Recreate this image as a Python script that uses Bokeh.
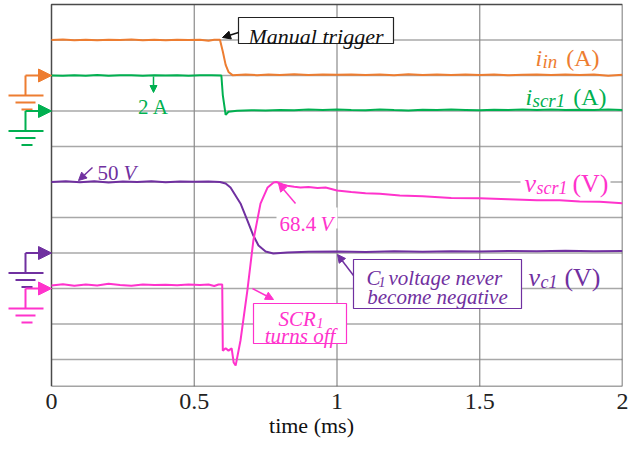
from bokeh.plotting import figure
from bokeh.models import Range1d, FixedTicker, Arrow, NormalHead, Label
from bokeh.embed import file_html
from bokeh.resources import INLINE

# ---------------- data ----------------
tick_values = [0, 0.5, 1, 1.5, 2]
tick_labels = ["0", "0.5", "1", "1.5", "2"]

# time in ms
t_iin = [0, 0.04, 0.08, 0.12, 0.16, 0.2, 0.24, 0.28, 0.32, 0.36, 0.4, 0.44, 0.48, 0.52,
         0.55, 0.57, 0.59, 0.6, 0.61, 0.62, 0.634, 0.68, 0.72, 0.76, 0.8, 0.85, 0.9, 0.95,
         1.0, 1.05, 1.1, 1.15, 1.2, 1.25, 1.3, 1.35, 1.4, 1.45, 1.5, 1.55, 1.6, 1.65, 1.7,
         1.75, 1.8, 1.85, 1.9, 1.95, 2.0]
i_in = [2.00, 2.03, 1.99, 2.02, 1.98, 2.02, 2.00, 2.03, 1.98, 2.01, 1.99, 2.02, 2.00, 2.01,
        1.96, 2.02, 2.01, 1.35, 0.60, 0.20, 0.02, 0.05, 0.02, 0.06, 0.03, 0.07, 0.03, 0.05,
        0.04, 0.06, 0.03, 0.05, 0.02, 0.07, 0.03, 0.05, 0.03, 0.06, 0.03, 0.05, 0.02, 0.04,
        0.06, 0.03, 0.05, 0.03, 0.06, -0.02, 0.04]

t_iscr = [0, 0.04, 0.08, 0.12, 0.16, 0.2, 0.24, 0.28, 0.32, 0.36, 0.4, 0.44, 0.48, 0.52,
          0.56, 0.595, 0.6, 0.61, 0.62, 0.65, 0.7, 0.75, 0.8, 0.85, 0.9, 0.95, 1.0, 1.05,
          1.1, 1.15, 1.2, 1.25, 1.3, 1.35, 1.4, 1.45, 1.5, 1.55, 1.6, 1.65, 1.7, 1.75, 1.8,
          1.85, 1.9, 1.95, 2.0]
i_scr1 = [2.00, 1.98, 2.02, 1.99, 2.03, 1.98, 2.01, 2.02, 1.99, 2.01, 2.00, 2.02, 1.99, 2.01,
          2.02, 2.00, 0.90, -0.22, -0.04, 0.02, 0.04, 0.03, 0.06, 0.04, 0.08, 0.05, 0.09, 0.06,
          0.04, 0.08, 0.05, 0.03, 0.07, 0.05, 0.08, 0.06, 0.04, 0.07, 0.05, 0.08, 0.06, 0.09,
          0.05, 0.07, 0.06, 0.08, 0.06]

t_vc1 = [0, 0.05, 0.1, 0.15, 0.2, 0.25, 0.3, 0.35, 0.4, 0.45, 0.5, 0.55, 0.59, 0.61, 0.627,
         0.662, 0.686, 0.707, 0.725, 0.75, 0.777, 0.826, 0.9, 1.0, 1.1, 1.2, 1.3, 1.4, 1.5,
         1.6, 1.7, 1.8, 1.9, 2.0]
v_c1 = [50.0, 50.6, 49.8, 50.5, 49.7, 50.4, 50.0, 50.6, 49.8, 50.3, 50.1, 50.3, 50.0, 48.9,
        46.1, 34.9, 22.9, 12.3, 5.3, 1.1, -0.35, 0.4, 0.9, 1.0, 0.7, 1.2, 0.9, 1.3, 1.0, 1.4,
        1.2, 1.5, 1.3, 1.4]

t_vscr = [0, 0.04, 0.08, 0.12, 0.16, 0.2, 0.24, 0.28, 0.32, 0.36, 0.4, 0.44, 0.48, 0.52,
          0.55, 0.57, 0.585, 0.598, 0.600, 0.610, 0.620, 0.631, 0.638, 0.645, 0.662, 0.686,
          0.707, 0.732, 0.757, 0.778, 0.788, 0.81, 0.826, 0.85, 0.872, 0.9, 0.932, 0.96,
          1.0, 1.05, 1.1, 1.15, 1.22, 1.3, 1.4, 1.5, 1.6, 1.7, 1.78, 1.85, 1.92, 2.0]
v_scr1 = [2.0, 2.8, 1.8, 2.6, 1.9, 3.0, 2.2, 1.7, 2.5, 2.2, 2.4, 2.1, 2.5, 2.3,
          2.6, 1.6, 2.6, 2.5, -39.9, -38.3, -39.9, -38.5, -47.5, -49.5, -33.4, -1.3,
          30.8, 54.5, 64.9, 68.1, 68.4, 66.8, 66.0, 65.3, 64.9, 65.2, 64.6, 64.9,
          62.9, 62.0, 61.2, 60.9, 59.8, 59.3, 58.2, 57.9, 57.3, 56.6, 56.6, 55.8, 55.7, 54.7]

# channel settings (scope screen): ground level in divisions, units per division
ground_div = [9, 8, 4, 3]
units_per_div = [2.0, 2.0, 25.0, 22.8]
colors = ["#ED7D31", "#00B050", "#7030A0", "#FF33CC"]
series = [(t_iin, i_in), (t_iscr, i_scr1), (t_vc1, v_c1), (t_vscr, v_scr1)]

# ---------------- layout helpers (pixel -> data) ----------------
def X(px):
    return (px - 51) / 285.5

def Y(py):
    return 10 - (py - 39.5) / 35.5

PYD = 1 / 35.5    # data per px, y

p = figure(width=639, height=449, output_backend="svg", toolbar_location=None,
           x_range=Range1d(X(0), 2.0), y_range=Range1d(Y(386), Y(0)),
           y_axis_location=None,
           min_border_left=0, min_border_right=17, min_border_top=0, min_border_bottom=63)
p.outline_line_color = None
p.grid.visible = False
p.background_fill_color = "white"
p.border_fill_color = "white"

ax = p.xaxis[0]
ax.ticker = FixedTicker(ticks=tick_values)
ax.major_label_overrides = {v: s for v, s in zip(tick_values, tick_labels)}
ax.axis_line_color = None
ax.major_tick_line_color = None
ax.minor_tick_line_color = None
ax.major_tick_out = 0
ax.major_tick_in = 0
ax.major_label_text_font = "Liberation Serif"
ax.major_label_text_font_size = "24px"
ax.major_label_text_color = "#222222"
ax.major_label_standoff = 7
ax.axis_label = "time (ms)"
ax.axis_label_text_font = "Liberation Serif"
ax.axis_label_text_font_size = "22px"
ax.axis_label_text_font_style = "normal"
ax.axis_label_text_color = "#111111"
ax.axis_label_standoff = 1

y_bot = Y(386)
y_top = Y(4)
grid_levels = list(range(1, 11))
vgrid = [0.5, 1.0, 1.5]

# grid
p.segment(x0=[0] * len(grid_levels), x1=[2] * len(grid_levels), y0=grid_levels, y1=grid_levels,
          line_color="#A8A8A8", line_width=1.6)
p.segment(x0=vgrid, x1=vgrid, y0=[y_bot] * 3, y1=[y_top] * 3, line_color="#8A8A8A", line_width=1.2)
# frame
p.line(x=[0, 0, 2, 2, 0], y=[y_bot, y_top, y_top, y_bot, y_bot], line_color="#4A4A4A", line_width=1.5)

# traces
for (t, v), g, s, c in zip(series, ground_div, units_per_div, colors):
    p.line(x=t, y=[g + val / s for val in v], line_color=c, line_width=2)

# ground markers
for g, c in zip(ground_div, colors):
    p.add_layout(Arrow(end=NormalHead(size=13, fill_color=c, line_color=c),
                       x_start=X(25), y_start=g, x_end=0, y_end=g,
                       line_color=c, line_width=2))
    p.line(x=[X(25), X(25)], y=[g, g - 20 * PYD], line_color=c, line_width=2)
    p.segment(x0=[X(8), X(15), X(21)], x1=[X(43), X(35), X(32)],
              y0=[g - 20 * PYD, g - 27 * PYD, g - 34 * PYD],
              y1=[g - 20 * PYD, g - 27 * PYD, g - 34 * PYD], line_color=c, line_width=2)

# boxes
p.quad(left=[X(238)], right=[X(393)], top=[Y(17)], bottom=[Y(43)],
       fill_color="white", line_color="#222222", line_width=1.2)
p.quad(left=[X(353)], right=[X(521)], top=[Y(259)], bottom=[Y(308)],
       fill_color="white", line_color=colors[2], line_width=1.2)
p.quad(left=[X(253)], right=[X(346)], top=[Y(303)], bottom=[Y(343)],
       fill_color="white", line_color=colors[3], line_width=1.2)
# white backgrounds behind labels crossing grid lines
p.quad(left=[X(520), X(276)], right=[X(610), X(337)], top=[Y(162), Y(207)], bottom=[Y(190), Y(228)],
       fill_color="white", line_color=None)


def txt(px, py, s, color, size, style="italic", align="left"):
    p.add_layout(Label(x=X(px), y=Y(py), text=s, text_color=color,
                       text_font="Liberation Serif", text_font_size=f"{size}px",
                       text_font_style=style, text_align=align, text_baseline="alphabetic"))


def arrow(x0, y0, x1, y1, color, size=8):
    p.add_layout(Arrow(end=NormalHead(size=size, fill_color=color, line_color=color),
                       x_start=X(x0), y_start=Y(y0), x_end=X(x1), y_end=Y(y1),
                       line_color=color, line_width=1.5))


# Manual trigger
txt(315.5, 36, "Manual trigger", "#111111", 22, align="center")
arrow(238, 32, 222, 37, "#111111")

# i_in (A)
txt(535, 57, "i", colors[0], 24)
txt(542, 61, "in", colors[0], 19)
txt(599, 57, "(A)", colors[0], 24, style="normal", align="right")
# i_scr1 (A)
txt(525, 96, "i", colors[1], 24)
txt(532, 100, "scr1", colors[1], 19)
txt(606, 96, "(A)", colors[1], 24, style="normal", align="right")
# 2 A
txt(153, 106, "2 A", colors[1], 21, style="normal", align="center")
arrow(153, 76, 153, 92, colors[1], size=7)

# 50 V
txt(97, 172, "50", colors[2], 21, style="normal")
txt(123, 172, "V", colors[2], 21)
arrow(92, 167, 78, 180, colors[2])

# 68.4 V
txt(279, 223, "68.4", colors[3], 21, style="normal")
txt(320, 223, "V", colors[3], 21)
arrow(295, 203, 278, 183, colors[3])

# v_scr1 (V)
txt(524, 183, "v", colors[3], 26)
txt(536, 187, "scr1", colors[3], 18)
txt(608, 183, "(V)", colors[3], 26, style="normal", align="right")
# v_c1 (V)
txt(528, 277, "v", colors[2], 26)
txt(540, 281, "c1", colors[2], 18)
txt(600, 277, "(V)", colors[2], 26, style="normal", align="right")

# C1 box text
txt(366, 277, "C", colors[2], 21)
txt(378, 281, "1", colors[2], 14)
txt(388, 277, "voltage never", colors[2], 21)
txt(437, 296, "become negative", colors[2], 21, align="center")
arrow(353, 275, 337, 254, colors[2])

# SCR1 box text
txt(278, 318, "SCR", colors[3], 21)
txt(316, 322, "1", colors[3], 14)
txt(299.5, 335, "turns off", colors[3], 21, align="center")
arrow(252, 288, 273, 299, colors[3])

open("out.html", "w").write(file_html(p, INLINE))
